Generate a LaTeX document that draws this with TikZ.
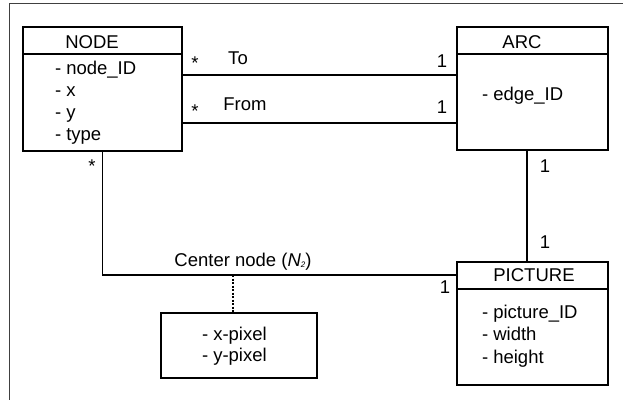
\documentclass[tikz,border=0pt]{standalone}
\usepackage{fontspec}
\setmainfont{Liberation Sans}
\usetikzlibrary{calc}
\begin{document}
\begin{tikzpicture}[x=1pt,y=-1pt,
  every node/.style={font=\fontsize{18.5}{22}\selectfont, inner sep=0pt, outer sep=0pt},
  classbox/.style={draw, line width=1.6pt, rectangle, anchor=north west},
  conn/.style={line width=1.6pt},
  dotconn/.style={line width=1.2pt, dash pattern=on 2pt off 1.5pt},
  lbl/.style={anchor=base},
  attr/.style={anchor=base west},
  frameline/.style={line width=1pt, black!75}]
\useasboundingbox (0,0) rectangle (623,400);
% outer frame (top and left only)
\coordinate (frTL) at (9,3);
\coordinate (frTR) at (623,3);
\coordinate (frBL) at (9,400);
\draw[frameline] (frTR) -- (frTL) -- (frBL);

% class boxes
\node[classbox, minimum width=159pt, minimum height=124pt] (nodebox) at (23,27) {};
\node[classbox, minimum width=151pt, minimum height=123pt] (arcbox) at (457,27) {};
\node[classbox, minimum width=151pt, minimum height=123pt] (picbox) at (457,262) {};
\node[classbox, minimum width=156pt, minimum height=65pt] (smallbox) at (161,313) {};

% header separators
\draw[conn] ([yshift=-27pt]nodebox.north west) -- ([yshift=-27pt]nodebox.north east);
\draw[conn] ([yshift=-27pt]arcbox.north west) -- ([yshift=-27pt]arcbox.north east);
\draw[conn] ([yshift=-27pt]picbox.north west) -- ([yshift=-27pt]picbox.north east);

% titles
\node[lbl] (nodetitle) at (92,48) {NODE};
\node[lbl] (arctitle) at (522,48) {ARC};
\node[lbl] (pictitle) at (534,281) {PICTURE};

% attributes
\node[attr] (a1) at (55,74) {- node\_ID};
\node[attr] (a2) at (55,96) {- x};
\node[attr] (a3) at (55,118) {- y};
\node[attr] (a4) at (55,140) {- type};
\node[attr] (b1) at (482,100) {- edge\_ID};
\node[attr] (c1) at (482,318) {- picture\_ID};
\node[attr] (c2) at (482,340.5) {- width};
\node[attr] (c3) at (482,363) {- height};
\node[attr] (d1) at (202,340) {- x-pixel};
\node[attr] (d2) at (202,361.5) {- y-pixel};

% connectors
\draw[conn] ([yshift=-48pt]nodebox.north east) -- ([yshift=-48pt]arcbox.north west);
\draw[conn] ([yshift=-96pt]nodebox.north east) -- ([yshift=-96pt]arcbox.north west);
\draw[conn] ([xshift=-5.5pt]arcbox.south) -- ([xshift=-5.5pt]picbox.north);
\draw[conn] (nodebox.south) |- ([yshift=-13pt]picbox.north west);
\coordinate (dotTop) at (233,275);
\draw[dotconn] (dotTop) -- (dotTop |- smallbox.north);

% connector labels
\node[lbl] (s1) at (195,69.5) {*};
\node[lbl] (toL) at (238,64) {To};
\node[lbl] (s2) at (195,117.5) {*};
\node[lbl] (fromL) at (245,110) {From};
\node[lbl] (s3) at (92,172) {*};
\node[lbl] (o1) at (442,67) {1};
\node[lbl] (o2) at (442,113) {1};
\node[lbl] (o3) at (545,172) {1};
\node[lbl] (o4) at (545,248) {1};
\node[lbl] (o5) at (445,293) {1};
\node[lbl] (center) at (243,266) {Center node (\textit{N}\raisebox{-1.5pt}{\fontsize{8}{8}\selectfont\textit{2}})};
\end{tikzpicture}
\end{document}
